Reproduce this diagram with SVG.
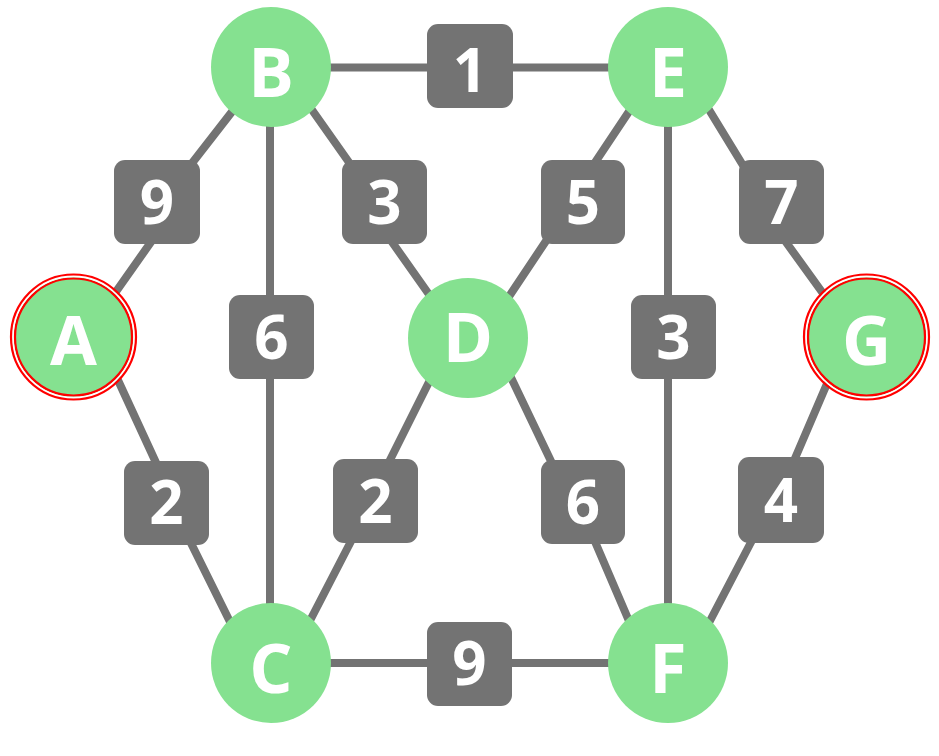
<svg xmlns="http://www.w3.org/2000/svg" width="939" height="756" viewBox="0 0 939 756">
<style>
.e{stroke:#737373;stroke-width:8;fill:none}
.n{fill:#85e190}
.r{fill:none;stroke:#ff0000;stroke-width:2.2}
.w{fill:none;stroke:#ffffff;stroke-width:1.6}
.nt{font-family:"Open Sans",sans-serif;font-weight:700;font-size:68px;fill:#ffffff;text-anchor:middle}
.lb{fill:#737373}
.lt{font-family:"Open Sans",sans-serif;font-weight:700;font-size:60px;fill:#ffffff;text-anchor:middle}
</style>
<rect width="939" height="756" fill="#ffffff"/>
<g id="edges">
<path class="e" d="M245,95 L175,185 M163,225 L96,320"/>
<path class="e" d="M105,352 L164,480 M182,525 L239,640"/>
<path class="e" d="M300,67.5 L640,67.5"/>
<path class="e" d="M270,100 L270,630"/>
<path class="e" d="M305,100 L365,185 M380,225 L440,310"/>
<path class="e" d="M435,370 L380,480 M362,520 L300,640"/>
<path class="e" d="M640,95 L580,185 M560,220 L500,310"/>
<path class="e" d="M700,95 L755,185 M770,220 L835,310"/>
<path class="e" d="M505,365 L560,480 M590,530 L635,635"/>
<path class="e" d="M668,100 L668,630"/>
<path class="e" d="M835,365 L790,470 M760,525 L700,640"/>
<path class="e" d="M300,663 L640,663"/>
</g>
<g id="labels">
<g id="l-AB"><rect class="lb" x="114" y="160" width="86" height="84" rx="11"/><text class="lt" x="157" y="224">9</text></g>
<g id="l-AC"><rect class="lb" x="124" y="461" width="85" height="84" rx="11"/><text class="lt" x="166.5" y="524">2</text></g>
<g id="l-BE"><rect class="lb" x="427" y="24" width="86" height="84" rx="11"/><text class="lt" x="470" y="92">1</text></g>
<g id="l-BC"><rect class="lb" x="229" y="295" width="85" height="84" rx="11"/><text class="lt" x="271.5" y="359">6</text></g>
<g id="l-BD"><rect class="lb" x="342" y="160" width="85" height="84" rx="11"/><text class="lt" x="384.5" y="224">3</text></g>
<g id="l-CD"><rect class="lb" x="333" y="459" width="85" height="84" rx="11"/><text class="lt" x="375.5" y="523">2</text></g>
<g id="l-DE"><rect class="lb" x="541" y="160" width="84" height="84" rx="11"/><text class="lt" x="583" y="224">5</text></g>
<g id="l-EG"><rect class="lb" x="739" y="160" width="85" height="84" rx="11"/><text class="lt" x="781.5" y="224">7</text></g>
<g id="l-DF"><rect class="lb" x="541" y="460" width="84" height="84" rx="11"/><text class="lt" x="583" y="524">6</text></g>
<g id="l-EF"><rect class="lb" x="631" y="295" width="85" height="84" rx="11"/><text class="lt" x="673.5" y="359">3</text></g>
<g id="l-FG"><rect class="lb" x="738" y="457" width="86" height="86" rx="11"/><text class="lt" x="781" y="522">4</text></g>
<g id="l-CF"><rect class="lb" x="427" y="622" width="85" height="84" rx="11"/><text class="lt" x="469.5" y="685">9</text></g>
</g>
<g id="node-A"><circle class="n" cx="73.5" cy="337" r="60"/><circle class="r" cx="73.5" cy="337" r="58.5"/><circle class="w" cx="73.5" cy="337" r="60.6"/><circle class="r" cx="73.5" cy="337" r="62.5"/><text class="nt" x="73.5" y="365">A</text></g>
<g id="node-B"><circle class="n" cx="271" cy="67" r="60"/><text class="nt" x="271" y="97">B</text></g>
<g id="node-C"><circle class="n" cx="271" cy="663" r="60"/><text class="nt" x="271" y="693">C</text></g>
<g id="node-D"><circle class="n" cx="468" cy="338" r="60"/><text class="nt" x="468" y="362">D</text></g>
<g id="node-E"><circle class="n" cx="668" cy="67" r="60"/><text class="nt" x="668" y="97">E</text></g>
<g id="node-F"><circle class="n" cx="668" cy="663" r="60"/><text class="nt" x="668" y="693">F</text></g>
<g id="node-G"><circle class="n" cx="866.5" cy="337" r="60"/><circle class="r" cx="866.5" cy="337" r="58.5"/><circle class="w" cx="866.5" cy="337" r="60.6"/><circle class="r" cx="866.5" cy="337" r="62.5"/><text class="nt" x="866.5" y="365">G</text></g>
</svg>
